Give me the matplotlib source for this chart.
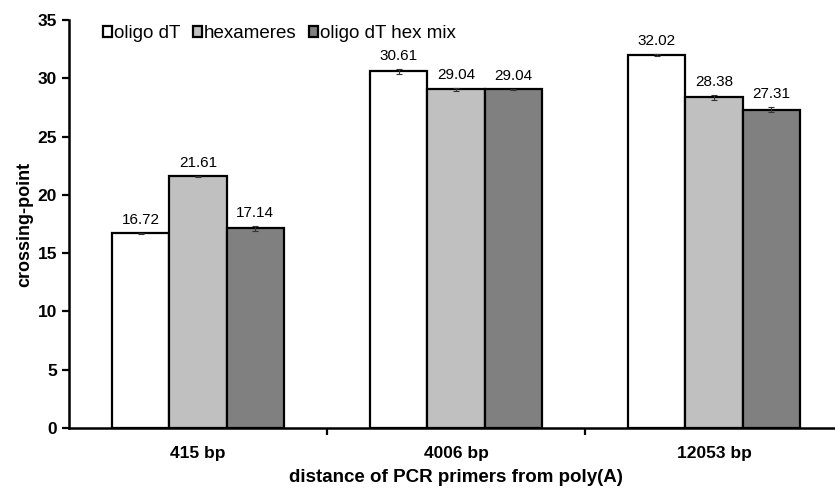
import numpy as np
import matplotlib
matplotlib.use("Agg")
import matplotlib.pyplot as plt

plt.rcParams['font.family'] = ['Liberation Sans', 'DejaVu Sans']

categories = ['415 bp', '4006 bp', '12053 bp']
series = ['oligo dT', 'hexameres', 'oligo dT hex mix']
oligo_dt = [16.72, 30.61, 32.02]
hexameres = [21.61, 29.04, 28.38]
hex_mix = [17.14, 29.04, 27.31]
err_oligo_dt = [0.05, 0.2, 0.1]
err_hexameres = [0.05, 0.15, 0.2]
err_hex_mix = [0.2, 0.05, 0.2]
colors = ['#ffffff', '#c0c0c0', '#808080']

fig = plt.figure(figsize=(8.35, 4.91), dpi=100)
ax = fig.add_axes([69 / 835, 63 / 491, 774 / 835, 408 / 491])

x = np.arange(len(categories))
w = 0.221
values = [oligo_dt, hexameres, hex_mix]
errs = [err_oligo_dt, err_hexameres, err_hex_mix]
for i in range(3):
    pos = x + (i - 1) * w
    ax.bar(pos, values[i], w, color=colors[i], edgecolor='black', linewidth=1.6,
           label=series[i], yerr=errs[i], capsize=2.5,
           error_kw={'elinewidth': 0.8, 'capthick': 0.8, 'ecolor': '#333333'})
    for p, v, e in zip(pos, values[i], errs[i]):
        ax.text(p, v + e + 0.5, '%.2f' % v, ha='center', va='bottom', fontsize=11)

ax.set_xlim(-0.5, 2.5)
ax.set_ylim(0, 35)
ax.set_yticks(range(0, 36, 5))
ax.set_xticks(x)
ax.set_xticklabels(categories, fontsize=12.5, fontweight='bold')
ax.set_xticks([0.5, 1.5], minor=True)
ax.tick_params(axis='x', which='major', length=0, pad=13)
ax.tick_params(axis='x', which='minor', length=5, width=1.6, direction='out')
ax.tick_params(axis='y', length=5, width=1.6, direction='out', labelsize=12.5)
for lab in ax.get_yticklabels():
    lab.set_fontweight('bold')

ax.spines['top'].set_visible(False)
ax.spines['right'].set_visible(False)
ax.spines['left'].set_linewidth(1.8)
ax.spines['bottom'].set_linewidth(1.8)

ax.set_ylabel('crossing-point', fontsize=13, fontweight='bold', labelpad=3)
ax.set_xlabel('distance of PCR primers from poly(A)', fontsize=13.5, fontweight='bold', labelpad=6)

leg = ax.legend(loc='upper left', bbox_to_anchor=(0.034, 1.005), ncol=3, frameon=False,
                fontsize=13.5, handlelength=0.5, handleheight=0.5, handletextpad=0.1,
                columnspacing=0.65, borderaxespad=0)

fig.savefig('out.png', dpi=100)
